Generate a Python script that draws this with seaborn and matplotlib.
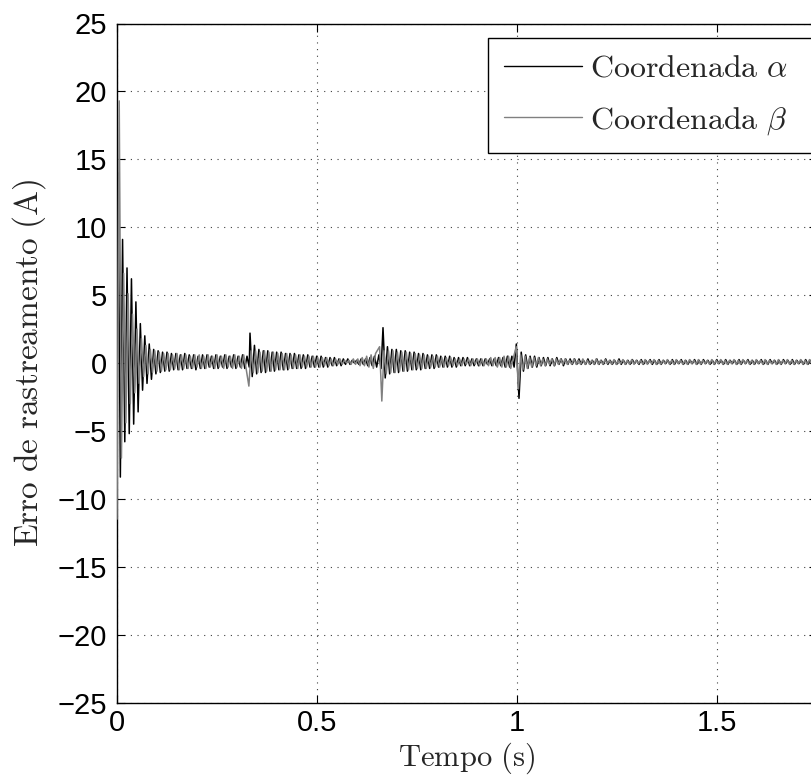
import numpy as np
import pandas as pd
import matplotlib
matplotlib.use("Agg")
import matplotlib.pyplot as plt
import seaborn as sns
from matplotlib.lines import Line2D

# ---------------- data (local extremes) ----------------
HALF = 1.0 / 180.0  # spacing between successive extremes (s)

series_names = ["$\\mathrm{Coordenada}\\ \\alpha$", "$\\mathrm{Coordenada}\\ \\beta$"]

# alpha coordinate (black): segments start times and extreme values
alpha_starts = [0.0028, 0.3325, 0.665, 1.005]
alpha_seg0 = [14.0, -8.4, 9.1, -5.8, 7.0, -5.2, 6.2, -4.5, 4.5, -3.6,
              2.9, -2.0, 2.0, -1.5, 1.4, -1.2, 1.0, -0.8, 0.9, -0.7,
              0.8, -0.6, 0.8, -0.6, 0.7, -0.5, 0.7, -0.5, 0.6, -0.5,
              0.7, -0.4, 0.6, -0.4, 0.6, -0.5, 0.5, -0.4, 0.6, -0.4,
              0.6, -0.3, 0.5, -0.4, 0.6, -0.4, 0.5, -0.3, 0.6, -0.4,
              0.5, -0.3, 0.6, -0.4, 0.5, -0.3, 0.6, -0.4, 0.5, -0.3]
alpha_seg1 = [2.2, -1.0, 1.3, -0.8, 1.0, -0.7, 0.9, -0.7, 0.9, -0.6,
              0.8, -0.6, 0.8, -0.5, 0.8, -0.5, 0.7, -0.5, 0.7, -0.4,
              0.7, -0.4, 0.6, -0.4, 0.6, -0.4, 0.6, -0.3, 0.5, -0.3,
              0.5, -0.3, 0.5, -0.3, 0.4, -0.3, 0.4, -0.2, 0.4, -0.2,
              0.3, -0.2, 0.3, -0.1, 0.3, -0.1, 0.2, 0.0, 0.2, -0.1,
              0.3, -0.1, 0.3, -0.2, 0.4, -0.2, 0.5, -0.3, 0.6, -0.4]
alpha_seg2 = [2.6, -1.1, 1.2, -0.8, 1.0, -0.7, 1.0, -0.7, 0.9, -0.6,
              0.9, -0.6, 0.8, -0.5, 0.8, -0.5, 0.7, -0.5, 0.7, -0.4,
              0.6, -0.4, 0.6, -0.4, 0.6, -0.3, 0.5, -0.3, 0.5, -0.3,
              0.5, -0.3, 0.4, -0.3, 0.4, -0.2, 0.4, -0.2, 0.4, -0.2,
              0.3, -0.2, 0.3, -0.2, 0.3, -0.2, 0.3, -0.1, 0.3, -0.2,
              0.3, -0.2, 0.4, -0.2, 0.4, -0.3, 0.5, -0.3, 0.5, -0.3,
              1.4]
alpha_seg3 = [-2.6, 0.8, -0.6, 0.6, -0.4, 0.5, -0.3, 0.5, -0.3, 0.4,
              -0.2, 0.4, -0.2, 0.4, -0.2, 0.3, -0.2, 0.4, -0.1, 0.3,
              -0.2, 0.3, -0.1, 0.3, -0.1, 0.3, -0.1, 0.3, -0.1, 0.2,
              -0.1, 0.3, -0.1, 0.2, -0.1, 0.3, -0.1, 0.2, -0.1, 0.3,
              -0.1, 0.2, -0.1, 0.2, -0.1, 0.3, -0.1, 0.2, -0.1, 0.2,
              -0.1, 0.25, -0.05, 0.2, -0.1, 0.25, -0.1, 0.2, -0.05, 0.25,
              -0.1, 0.2, -0.1, 0.25, -0.1, 0.2, -0.05, 0.2, -0.1, 0.25,
              -0.1, 0.2, -0.05, 0.25, -0.1, 0.2, -0.1, 0.2, -0.05, 0.25,
              -0.1, 0.2, -0.1, 0.25, -0.05, 0.2, -0.1, 0.2, -0.1, 0.25,
              -0.05, 0.2, -0.1, 0.25, -0.1, 0.2, -0.05, 0.2, -0.1, 0.25,
              -0.1, 0.2, -0.05, 0.25, -0.1, 0.2, -0.1, 0.2, -0.05, 0.25,
              -0.1, 0.2, -0.1, 0.25, -0.05, 0.2, -0.1, 0.2, -0.1, 0.25,
              -0.05, 0.2, -0.1, 0.25, -0.1, 0.2, -0.05, 0.2, -0.1, 0.25,
              -0.1, 0.2, -0.05, 0.25, -0.1, 0.2, -0.1, 0.2, -0.05, 0.25]

# beta coordinate (gray)
beta_starts = [-0.0056, 0.3297, 0.6565, 0.998]
beta_seg0 = [14.3, -11.5, 19.3, -7.0, 6.6, -4.4, 5.1, -3.0, 3.6, -2.2,
             2.5, -1.5, 1.8, -1.0, 1.3, -0.8, 1.0, -0.7, 0.9, -0.6,
             0.8, -0.6, 0.7, -0.5, 0.7, -0.5, 0.6, -0.4, 0.7, -0.5,
             0.6, -0.4, 0.6, -0.4, 0.5, -0.4, 0.6, -0.3, 0.6, -0.4,
             0.5, -0.4, 0.6, -0.3, 0.5, -0.4, 0.6, -0.3, 0.5, -0.4,
             0.6, -0.3, 0.5, -0.4, 0.6, -0.3, 0.5, -0.4, 0.6, -0.3]
beta_seg1 = [-1.7, 0.9, -0.7, 0.9, -0.7, 0.8, -0.6, 0.9, -0.6, 0.8,
             -0.6, 0.8, -0.5, 0.7, -0.5, 0.7, -0.5, 0.7, -0.4, 0.6,
             -0.4, 0.6, -0.4, 0.6, -0.3, 0.5, -0.3, 0.5, -0.3, 0.5,
             -0.3, 0.4, -0.3, 0.4, -0.2, 0.4, -0.2, 0.3, -0.2, 0.3,
             -0.1, 0.3, -0.1, 0.2, 0.0, 0.2, -0.1, 0.3, -0.1, 0.3,
             -0.2, 0.4, -0.2, 0.5, -0.3, 0.6, -0.4, 0.7]
beta_seg2 = [1.2, -2.8, 0.9, -0.8, 0.9, -0.7, 0.9, -0.7, 0.8, -0.6,
             0.8, -0.6, 0.8, -0.5, 0.7, -0.5, 0.7, -0.4, 0.6, -0.4,
             0.6, -0.4, 0.5, -0.3, 0.5, -0.3, 0.5, -0.3, 0.4, -0.3,
             0.4, -0.2, 0.4, -0.2, 0.3, -0.2, 0.3, -0.2, 0.3, -0.1,
             0.3, -0.2, 0.3, -0.1, 0.3, -0.2, 0.3, -0.2, 0.3, -0.2,
             0.4, -0.2, 0.4, -0.3, 0.4, -0.3, 0.5, -0.3, 0.5, -0.4]
beta_seg3 = [1.2, -1.9, 0.6, -0.5, 0.5, -0.4, 0.4, -0.3, 0.4, -0.2,
             0.4, -0.2, 0.3, -0.2, 0.3, -0.1, 0.3, -0.2, 0.3, -0.1,
             0.3, -0.1, 0.3, -0.1, 0.2, -0.1, 0.3, -0.1, 0.2, -0.1,
             0.3, -0.1, 0.2, -0.1, 0.2, -0.1, 0.3, -0.1, 0.2, -0.1,
             0.25, -0.05, 0.2, -0.1, 0.25, -0.1, 0.2, -0.05, 0.25, -0.1,
             0.2, -0.1, 0.25, -0.1, 0.2, -0.05, 0.2, -0.1, 0.25, -0.1,
             0.2, -0.05, 0.25, -0.1, 0.2, -0.1, 0.2, -0.05, 0.25, -0.1,
             0.2, -0.1, 0.25, -0.05, 0.2, -0.1, 0.2, -0.1, 0.25, -0.05,
             0.2, -0.1, 0.25, -0.1, 0.2, -0.05, 0.2, -0.1, 0.25, -0.1,
             0.2, -0.05, 0.25, -0.1, 0.2, -0.1, 0.2, -0.05, 0.25, -0.1,
             0.2, -0.1, 0.25, -0.05, 0.2, -0.1, 0.2, -0.1, 0.25, -0.05,
             0.2, -0.1, 0.25, -0.1, 0.2, -0.05, 0.2, -0.1, 0.25, -0.1,
             0.2, -0.05, 0.25, -0.1, 0.2, -0.1, 0.2, -0.05, 0.25, -0.1,
             0.2, -0.1, 0.25, -0.05, 0.2, -0.1, 0.2, -0.1, 0.25, -0.05]

x_ticks = [0, 0.5, 1, 1.5]
x_tick_labels = ["0", "0.5", "1", "1.5"]
y_ticks = [-25, -20, -15, -10, -5, 0, 5, 10, 15, 20, 25]
y_tick_labels = ["\u221225", "\u221220", "\u221215", "\u221210", "\u22125",
                 "0", "5", "10", "15", "20", "25"]
x_label = "$\\mathrm{Tempo\\ (s)}$"
y_label = "$\\mathrm{Erro\\ de\\ rastreamento\\ (A)}$"


def build(starts, segs):
    ts, vs = [], []
    for s, seg in zip(starts, segs):
        ts.append(s + np.arange(len(seg)) * HALF)
        vs.append(np.asarray(seg, dtype=float))
    return np.concatenate(ts), np.concatenate(vs)


ta, va = build(alpha_starts, [alpha_seg0, alpha_seg1, alpha_seg2, alpha_seg3])
tb, vb = build(beta_starts, [beta_seg0, beta_seg1, beta_seg2, beta_seg3])
df_a = pd.DataFrame({"t": ta, "e": va})
df_b = pd.DataFrame({"t": tb, "e": vb})

# ---------------- style ----------------
sns.set_style("ticks")
plt.rcParams["font.family"] = ["Liberation Sans", "DejaVu Sans"]
plt.rcParams["mathtext.fontset"] = "cm"
plt.rcParams["axes.unicode_minus"] = True

COL_A = "#000000"
COL_B = "#808080"

fig = plt.figure(figsize=(8.11, 7.84), dpi=100)
ax = fig.add_axes([117 / 811, 81.5 / 784, 700 / 811, 679 / 784])

sns.lineplot(data=df_a, x="t", y="e", ax=ax, color=COL_A, lw=1.1,
             sort=False, estimator=None, zorder=3)
sns.lineplot(data=df_b, x="t", y="e", ax=ax, color=COL_B, lw=1.1,
             sort=False, estimator=None, zorder=4)

ax.set_xlim(0, 1.75)
ax.set_ylim(-25, 25)
ax.set_xticks(x_ticks)
ax.set_xticklabels(x_tick_labels)
ax.set_yticks(y_ticks)
ax.set_yticklabels(y_tick_labels)
ax.tick_params(direction="in", length=6, width=0.8, labelsize=21,
               top=True, right=True, colors="black")
ax.tick_params(axis="y", pad=7)
ax.tick_params(axis="x", pad=5)

for sp in ax.spines.values():
    sp.set_visible(True)
    sp.set_linewidth(1.0)
    sp.set_color("black")

ax.grid(True, which="major", color="0.25", linestyle=(0, (1, 5)), lw=0.8)
ax.set_axisbelow(True)

ax.set_xlabel(x_label, fontsize=22, labelpad=2)
ax.set_ylabel(y_label, fontsize=24)
ax.yaxis.set_label_coords(-0.098, 0.5)

handles = [Line2D([], [], color=COL_A, lw=1.0),
           Line2D([], [], color=COL_B, lw=1.0)]
leg = ax.legend(handles, series_names, loc="upper left",
                bbox_to_anchor=(488 / 811, 1 - 38 / 784, 360 / 811, 0.0),
                bbox_transform=fig.transFigure, mode="expand",
                fontsize=23, frameon=True, fancybox=False, framealpha=1,
                edgecolor="black", handlelength=2.45, handletextpad=0.25,
                borderpad=0.5, labelspacing=0.66, borderaxespad=0)
leg.get_frame().set_linewidth(1.0)

fig.savefig("out.png", dpi=100)
